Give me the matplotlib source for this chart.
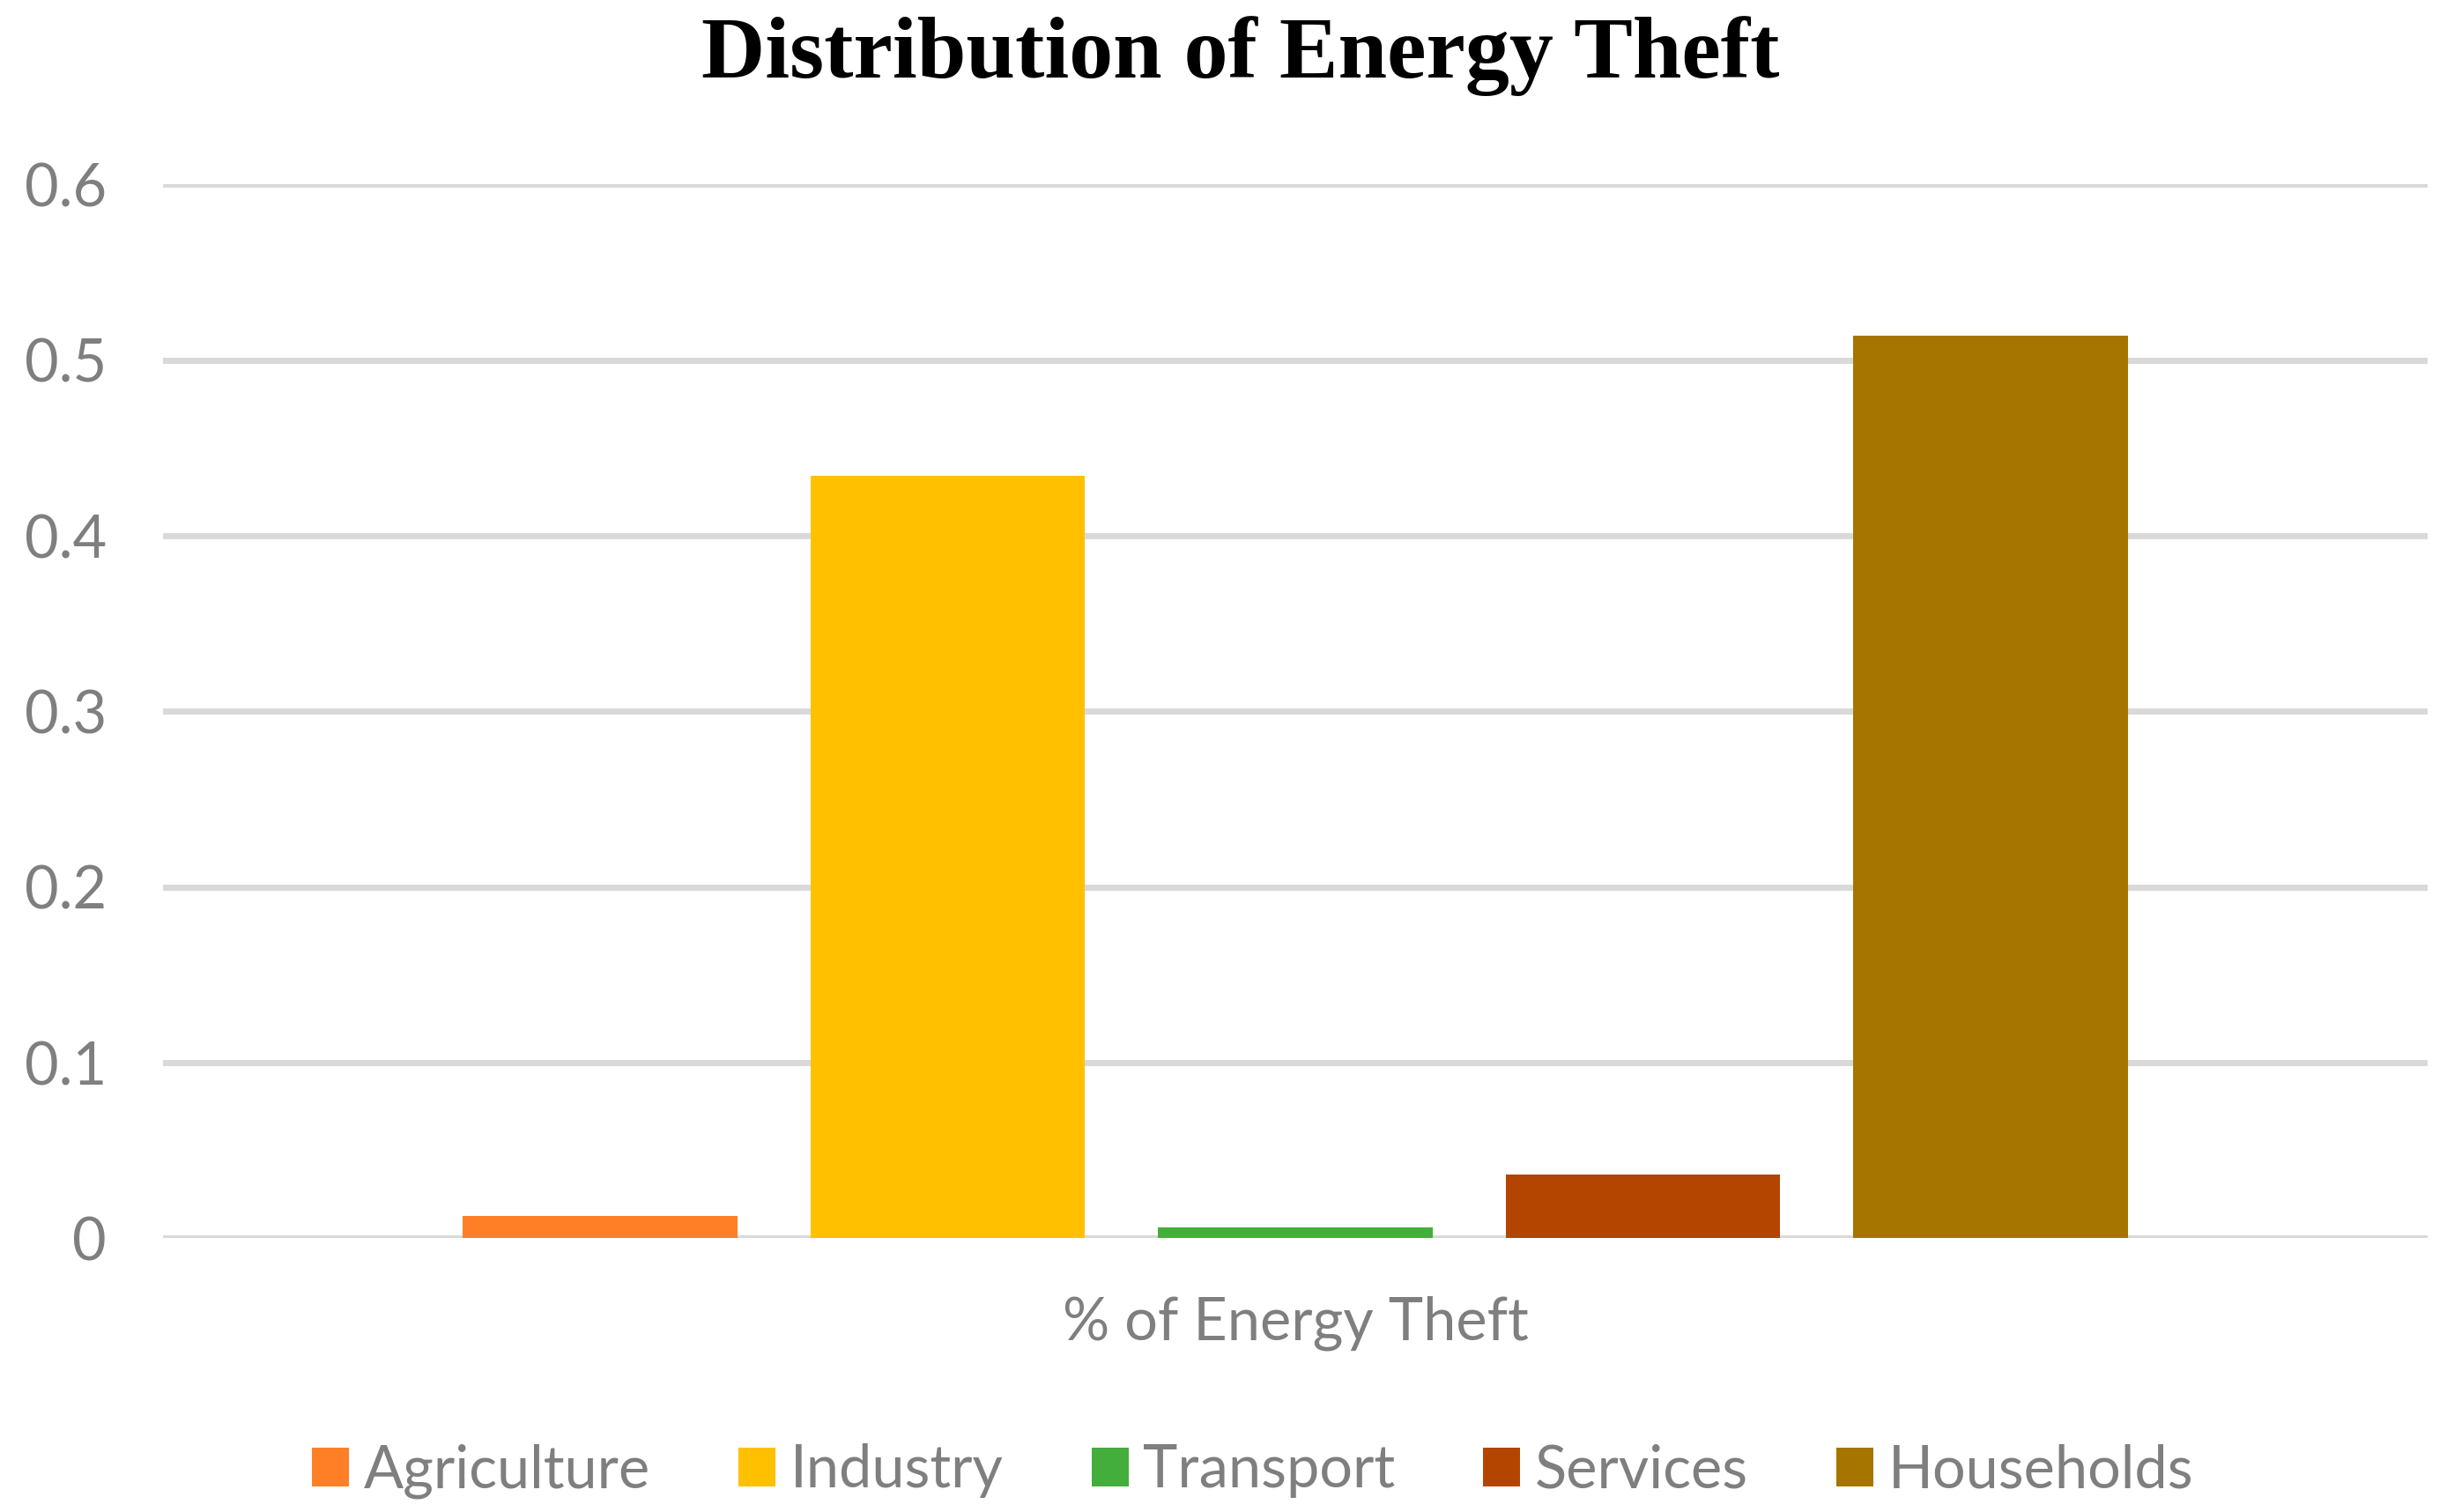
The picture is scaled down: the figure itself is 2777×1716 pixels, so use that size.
import numpy as np
import matplotlib
matplotlib.use("Agg")
import matplotlib.pyplot as plt
from matplotlib.patches import Patch

# data
sectors = ["Agriculture", "Industry", "Transport", "Services", "Households"]
theft_share = [0.0125, 0.434, 0.006, 0.0365, 0.514]
bar_colors = ["#FF7F27", "#FFC000", "#43AE3B", "#B44500", "#A67500"]
y_ticks = [0, 0.1, 0.2, 0.3, 0.4, 0.5, 0.6]
y_tick_labels = ["0", "0.1", "0.2", "0.3", "0.4", "0.5", "0.6"]

grey = "#7F7F7F"
grid_grey = "#D9D9D9"

fig = plt.figure(figsize=(27.77, 17.16), dpi=100)
ax = fig.add_axes([0.0666, 0.181, 0.9255, 0.697])

x = np.arange(len(sectors))
ax.bar(x, theft_share, width=0.79, color=bar_colors, zorder=3)

ax.set_xlim(-1.258, len(sectors) - 1 + 1.258)
ax.set_ylim(0, 0.6)
ax.set_yticks(y_ticks)
ax.set_yticklabels(y_tick_labels, fontfamily="Lato", fontsize=48, color=grey)
ax.tick_params(axis="y", length=0, pad=46)
ax.set_xticks([])
ax.yaxis.grid(True, color=grid_grey, linewidth=5, zorder=0)
ax.set_axisbelow(True)
for s in ax.spines.values():
    s.set_visible(False)

ax.set_xlabel("% of Energy Theft", fontfamily="Lato", fontsize=48,
              color=grey, labelpad=47)

fig.text(0.507, 0.949, "Distribution of Energy Theft", ha="center", va="baseline",
         fontfamily="Liberation Serif", fontweight="bold", fontsize=72)

handles = [Patch(facecolor=c, edgecolor="none") for c in bar_colors]
fig.legend(handles, sectors, loc="center", bbox_to_anchor=(0.512, 0.027),
           ncol=len(sectors), frameon=False,
           prop={"family": "Lato", "size": 48}, labelcolor=grey,
           handlelength=0.63, handleheight=0.63, handletextpad=0.25,
           columnspacing=1.5)

fig.savefig("out.png", dpi=100)
